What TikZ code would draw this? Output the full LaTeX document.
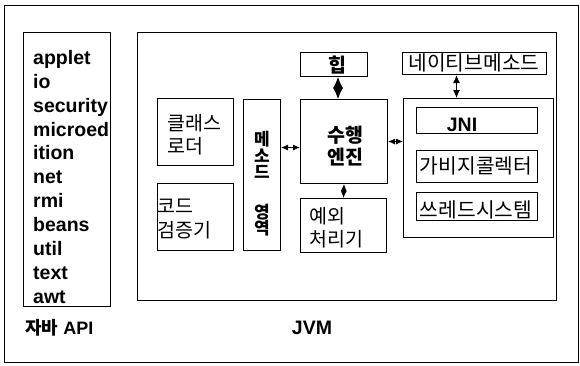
\documentclass[tikz,border=0pt]{standalone}
\usepackage{fontspec}
\setmainfont{Liberation Sans}
\newfontfamily\kr{Noto Sans CJK KR}
\usetikzlibrary{arrows.meta}
\begin{document}
\begin{tikzpicture}[x=1pt,y=-1pt,
  box/.style={draw, line width=1pt, inner sep=0pt, anchor=north west},
  lbl/.style={inner sep=0pt, font=\kr\fontsize{19.5}{22}\selectfont},
  lblb/.style={inner sep=0pt, font=\kr\bfseries\fontsize{19.5}{22}\selectfont},
  fit/.style={inner sep=0pt, font=\kr\fontsize{20.3}{22}\selectfont},
  vch/.style={inner sep=0pt, font=\kr\bfseries\fontsize{17}{18}\selectfont},
  lat/.style={inner sep=0pt, font=\bfseries\fontsize{19.5}{23.9}\selectfont},
  dblA/.style={line width=1pt, {Latex[length=11pt,width=10pt]}-{Latex[length=11pt,width=10pt]}},
  dblB/.style={line width=1pt, {Latex[length=7pt,width=6pt]}-{Latex[length=7pt,width=6pt]}},
  dblC/.style={line width=1pt, {Latex[length=8pt,width=7pt]}-{Latex[length=8pt,width=7pt]}}]
\useasboundingbox (0,0) rectangle (580,365);
% frames
\node[box, line width=0.8pt, minimum width=574pt, minimum height=357pt] (frame) at (4,5) {};
\node[box, minimum width=87pt, minimum height=274pt] (api) at (23,32) {};
\node[box, minimum width=419pt, minimum height=268pt] (jvm) at (137,32) {};
% JVM inner boxes
\node[box, minimum width=76pt, minimum height=67pt] (cl) at (157,98) {};
\node[box, minimum width=76pt, minimum height=67pt] (cv) at (157,183) {};
\node[box, minimum width=37pt, minimum height=151pt] (ma) at (243,99) {};
\node[box, minimum width=87pt, minimum height=84pt] (eng) at (300,99) {};
\node[box, minimum width=67pt, minimum height=24pt] (heap) at (300,52) {};
\node[box, minimum width=86pt, minimum height=54pt] (exc) at (300,198) {};
\node[box, minimum width=144pt, minimum height=22pt] (nat) at (402,52) {};
\node[box, minimum width=150pt, minimum height=139pt] (grp) at (403,98) {};
\node[box, minimum width=121pt, minimum height=26pt] (jni) at (416,107) {};
\node[box, minimum width=121pt, minimum height=32pt] (gc) at (416,150) {};
\node[box, minimum width=121pt, minimum height=28pt] (th) at (416,192) {};
% API list
\node[lat, anchor=north west, align=left] (apilist) at (33,50)
  {applet\\io\\security\\microed\\ition\\net\\rmi\\beans\\util\\text\\awt};
% texts
\node[lbl, anchor=west] (cl1) at (167,123) {클래스};
\node[lbl, anchor=west] (cl2) at (167,146) {로더};
\node[lbl, anchor=west] (cv1) at (157,206) {코드};
\node[lbl, anchor=west] (cv2) at (157,230) {검증기};
\node[vch] (m1) at (262,139) {메};
\node[vch] (m2) at (262,156) {소};
\node[vch] (m3) at (262,172) {드};
\node[vch] (m4) at (262,212) {영};
\node[vch] (m5) at (262,228) {역};
\node[lblb] (e1) at (345,135) {수행};
\node[lblb] (e2) at (345,157) {엔진};
\node[lblb] (h1) at (337,65) {힙};
\node[lbl, anchor=west] (x1) at (309,216) {예외};
\node[lbl, anchor=west] (x2) at (309,239) {처리기};
\node[fit] (n1) at (474,63) {네이티브메소드};
\node[inner sep=0pt, font=\bfseries\fontsize{19.5}{22}\selectfont] (j1) at (462,125) {JNI};
\node[fit] (g1) at (476,166) {가비지콜렉터};
\node[fit] (t1) at (476,210) {쓰레드시스템};
\node[inner sep=0pt, anchor=west, font=\bfseries\fontsize{18}{20}\selectfont] (apil) at (25,328) {{\kr 자바} API};
\node[inner sep=0pt, font=\bfseries\fontsize{19.5}{22}\selectfont] (jvml) at (312,328) {JVM};
% connectors
\coordinate (hx) at ([xshift=4pt]heap.south);
\draw[dblA] (hx) -- (hx |- eng.north);
\coordinate (eL) at ([yshift=-6pt]eng.west);
\draw[dblB] (eL -| ma.east) -- (eL);
\draw[dblB] (eng.east) -- (eng.east -| grp.west);
\draw[dblB] (eng.south) -- (exc.north);
\coordinate (nx) at ([xshift=-18pt]nat.south);
\draw[dblC] (nx) -- (nx |- grp.north);
\end{tikzpicture}
\end{document}
